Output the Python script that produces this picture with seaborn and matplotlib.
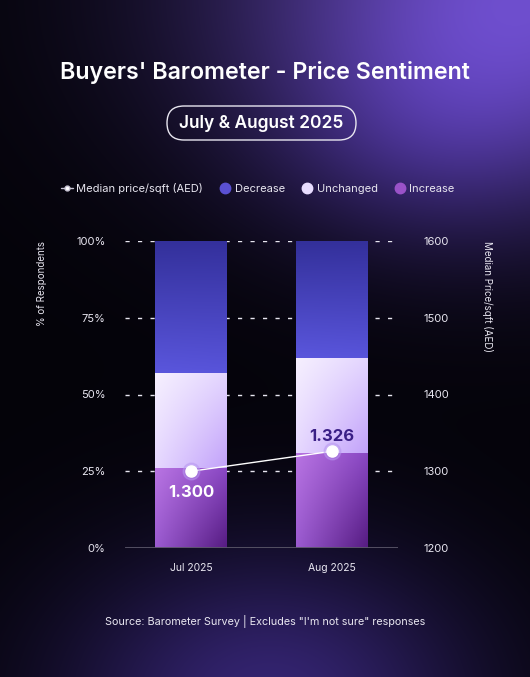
import numpy as np
import pandas as pd
import matplotlib
matplotlib.use("Agg")
import matplotlib.pyplot as plt
from matplotlib.lines import Line2D
from matplotlib.patches import FancyBboxPatch
from matplotlib.colors import to_rgb
import seaborn as sns

# data
months = ["Jul 2025", "Aug 2025"]
increase = [26, 31]
unchanged = [31, 31]
decrease = [43, 38]
median_price = [1300, 1326]
price_labels = ["1.300", "1.326"]

sns.set_theme(style="white")
plt.rcParams["font.family"] = ["Inter", "DejaVu Sans"]

W, H = 530, 677
fig = plt.figure(figsize=(W / 100, H / 100), dpi=100)

# background glow (pixel coords, y down)
bg = fig.add_axes([0, 0, 1, 1], zorder=-10)
yy, xx = np.mgrid[0:H, 0:W]
base = np.array([4, 3, 9]) / 255
glow1 = np.exp(-(((xx - 530) / 300) ** 2 + ((yy + 10) / 195) ** 2))
glow2 = np.exp(-(((xx - 270) / 205) ** 2 + ((yy - 700) / 150) ** 2))
glow3 = np.exp(-(((xx - 430) / 160) ** 2 + ((yy - 140) / 110) ** 2))
img = (base[None, None, :]
       + glow1[..., None] * np.array([104, 74, 190])[None, None, :] / 255
       + glow2[..., None] * np.array([48, 33, 104])[None, None, :] / 255
       + glow3[..., None] * np.array([22, 14, 50])[None, None, :] / 255)
bg.imshow(np.clip(img, 0, 1), aspect="auto", extent=[0, W, H, 0])
bg.set_xlim(0, W)
bg.set_ylim(H, 0)
bg.set_axis_off()

ax = fig.add_axes([125 / W, 1 - 548 / H, 273 / W, 307 / H])
ax.set_facecolor("none")

df = pd.DataFrame({"month": months, "inc": increase, "unc": unchanged, "dec": decrease})
df["top_unc"] = df["inc"] + df["unc"]
df["top_dec"] = df["top_unc"] + df["dec"]

seg_cols = ["top_dec", "top_unc", "inc"]
seg_colors = ["#4a46c8", "#dccbff", "#8a48c0"]
for col, c in zip(seg_cols, seg_colors):
    sns.barplot(data=df, x="month", y=col, color=c, width=0.51, ax=ax,
                saturation=1, zorder=2, linewidth=0)

# gradient fills clipped to the bars
grads = {
    "top_dec": (("#33309a", "#34309c"), ("#5a56dc", "#5854da")),
    "top_unc": (("#f6f0ff", "#e4d6ff"), ("#e6d8ff", "#c2a2fa")),
    "inc": (("#b874e2", "#8a48c4"), ("#9a5ad0", "#561c82")),
}
bottoms = {"top_dec": df["top_unc"].values, "top_unc": df["inc"].values, "inc": np.zeros(2)}
patches = list(ax.patches)
for k, col in enumerate(seg_cols):
    (tl, tr), (bl, br) = grads[col]
    tl, tr, bl, br = [np.array(to_rgb(c)) for c in (tl, tr, bl, br)]
    u = np.linspace(0, 1, 40)[None, :, None]
    v = np.linspace(0, 1, 60)[:, None, None]
    g = (1 - v) * ((1 - u) * tl + u * tr) + v * ((1 - u) * bl + u * br)
    for j in range(2):
        p = patches[k * 2 + j]
        x0 = p.get_x()
        w = p.get_width()
        im = ax.imshow(g, extent=[x0, x0 + w, bottoms[col][j], df[col].values[j]],
                       origin="upper", aspect="auto", zorder=2.5 + k * 0.1)
        im.set_clip_path(p)

ax.set_xlim(-0.47, 1.47)
ax.set_ylim(0, 100)
ax.set_yticks([0, 25, 50, 75, 100])
ax.set_yticklabels([f"{t}%" for t in [0, 25, 50, 75, 100]])
for t in [25, 50, 75, 100]:
    ax.axhline(t, color="#e8e6f0", lw=1, ls=(0, (3, 6)), zorder=1)
ax.axhline(0, color="#5a5668", lw=2, zorder=4)
ax.set_xlabel("")
ax.set_ylabel("")
for s in ax.spines.values():
    s.set_visible(False)
ax.tick_params(axis="y", length=0, pad=14, labelsize=8, labelcolor="#e8e6f0")
ax.tick_params(axis="x", length=0, pad=11, labelsize=7.5, labelcolor="#e8e6f0")

ax2 = ax.twinx()
ax2.set_ylim(1200, 1600)
ax2.set_yticks([1200, 1300, 1400, 1500, 1600])
ax2.tick_params(axis="y", length=0, pad=18, labelsize=8, labelcolor="#e8e6f0")
for s in ax2.spines.values():
    s.set_visible(False)
ax2.grid(False)
xs = np.arange(len(months))
ax2.plot(xs, median_price, color="white", lw=1, zorder=5)
ax2.plot(xs, median_price, "o", ms=12, color="#b898f0", alpha=0.45, zorder=5)
ax2.plot(xs, median_price, "o", ms=8, color="white", zorder=6)
ax2.annotate(price_labels[0], (0, median_price[0]), xytext=(0, -15), textcoords="offset points",
             ha="center", va="center", fontsize=12, fontweight="bold", color="white", zorder=7)
ax2.annotate(price_labels[1], (1, median_price[1]), xytext=(0, 11), textcoords="offset points",
             ha="center", va="center", fontsize=12, fontweight="bold", color="#3a1f86", zorder=7)

fig.text(42 / W, 1 - 241 / H, "% of Respondents", rotation=90, ha="center", va="top",
         fontsize=7, color="#e8e6f0")
fig.text(487 / W, 1 - 241 / H, "Median Price/sqft (AED)", rotation=270, ha="center", va="top",
         fontsize=7, color="#e8e6f0")

# header
fig.text(0.5, 1 - 72 / H, "Buyers' Barometer - Price Sentiment", ha="center", va="center",
         fontsize=16.7, fontweight="semibold", color="white")
pill = FancyBboxPatch((167, 106), 189, 34, boxstyle="round,pad=0,rounding_size=17",
                      facecolor="none", edgecolor="#e8e6f0", lw=1)
bg.add_patch(pill)
fig.text(261 / W, 1 - 123 / H, "July & August 2025", ha="center", va="center",
         fontsize=12.5, fontweight="semibold", color="white")

handles = [
    Line2D([], [], color="#c8c4d4", lw=1, marker="o", ms=3.5, markerfacecolor="white"),
    Line2D([], [], ls="", marker="o", ms=7.5, color="#5a50d2"),
    Line2D([], [], ls="", marker="o", ms=7.5, color="#e8dcff"),
    Line2D([], [], ls="", marker="o", ms=7.5, color="#9a52c8"),
]
labels = ["Median price/sqft (AED)", "Decrease", "Unchanged", "Increase"]
leg = fig.legend(handles, labels, loc="center", bbox_to_anchor=(0.5 - 7 / W, 1 - 188 / H), ncol=4,
                 frameon=False, fontsize=8, handlelength=1, handletextpad=0.35,
                 columnspacing=1.5, labelcolor="#e8e6f0")

fig.text(0.5, 1 - 621 / H, "Source: Barometer Survey | Excludes \"I'm not sure\" responses",
         ha="center", va="center", fontsize=7.8, color="#e8e6f0")

fig.savefig("out.png", dpi=100)
